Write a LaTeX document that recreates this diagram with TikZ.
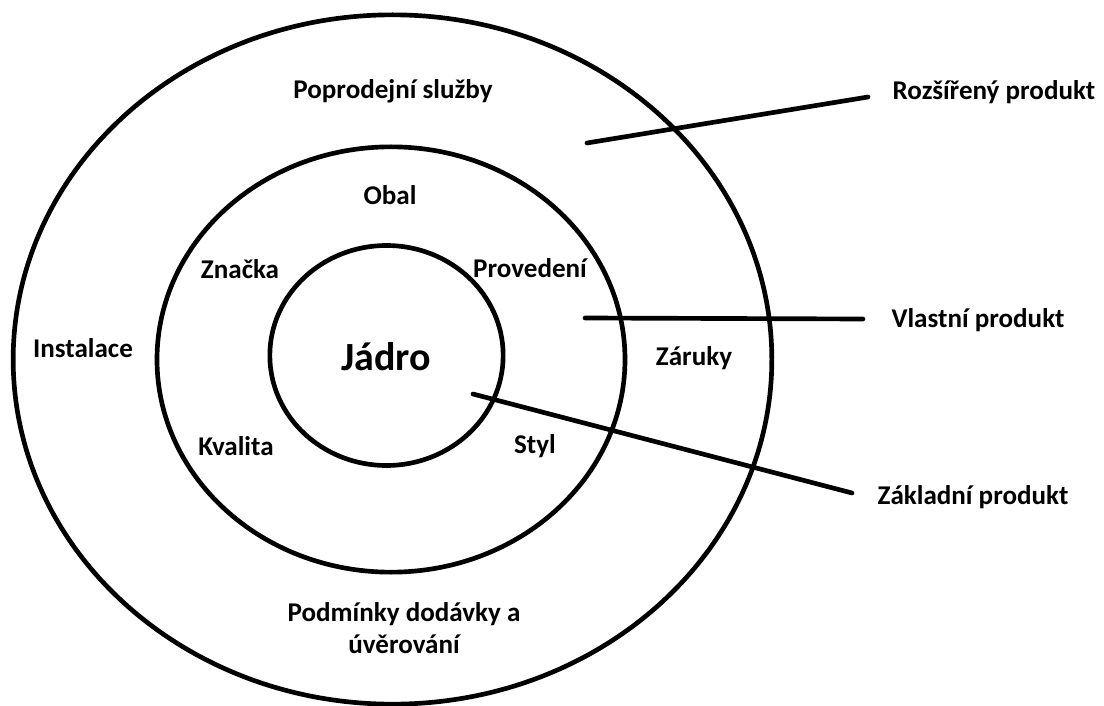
\documentclass[tikz,border=0pt]{standalone}
\usepackage{fontspec}
\setmainfont{Carlito}
\usetikzlibrary{shapes.geometric}

\begin{document}
\begin{tikzpicture}[
  x=0.75pt, y=-0.75pt,
  ring/.style={draw=black, line width=3.5pt, ellipse, inner sep=0pt},
  lead/.style={draw=black, line width=3.5pt, line cap=round},
  lbl/.style={font=\fontsize{20.3}{24}\selectfont\bfseries, inner sep=0pt, align=center},
  core/.style={font=\fontsize{30}{34}\selectfont\bfseries, inner sep=0pt}
]
\useasboundingbox (0,0) rectangle (1104,706);

% three nested product levels
\node[ring, minimum width=569pt, minimum height=517pt] (outer) at (392.5,359.5) {};
\node[ring, minimum width=351pt, minimum height=319pt] (middle) at (391,359.5) {};
\node[ring, minimum width=175pt, minimum height=165pt] (inner) at (386.5,355.5) {};

% labels inside the rings
\node[core] (jadro) at (386,357) {Jádro};
\node[lbl] (obal) at (390,195) {Obal};
\node[lbl] (znacka) at (240,269) {Značka};
\node[lbl] (proved) at (530,268) {Provedení};
\node[lbl] (kvalita) at (236,446) {Kvalita};
\node[lbl] (styl) at (535,446) {Styl};
\node[lbl] (poprod) at (393,91) {Poprodejní služby};
\node[lbl] (instal) at (83,348) {Instalace};
\node[lbl] (zaruky) at (694,358) {Záruky};
\node[lbl] (podm) at (404,628) {Podmínky dodávky a\\úvěrování};

% level names on the right
\node[lbl] (rozs) at (994,92) {Rozšířený produkt};
\node[lbl] (vlast) at (978,320) {Vlastní produkt};
\node[lbl] (zakl) at (973,497) {Základní produkt};

% leader line end points
\coordinate (r1) at (587,143);
\coordinate (r2) at (868,97);
\coordinate (v1) at (585,318);
\coordinate (v2) at (863,319);
\coordinate (z1) at (473,394);
\coordinate (z2) at (852,493);

\draw[lead] (r1) -- (r2);
\draw[lead] (v1) -- (v2);
\draw[lead] (z1) -- (z2);
\end{tikzpicture}
\end{document}
